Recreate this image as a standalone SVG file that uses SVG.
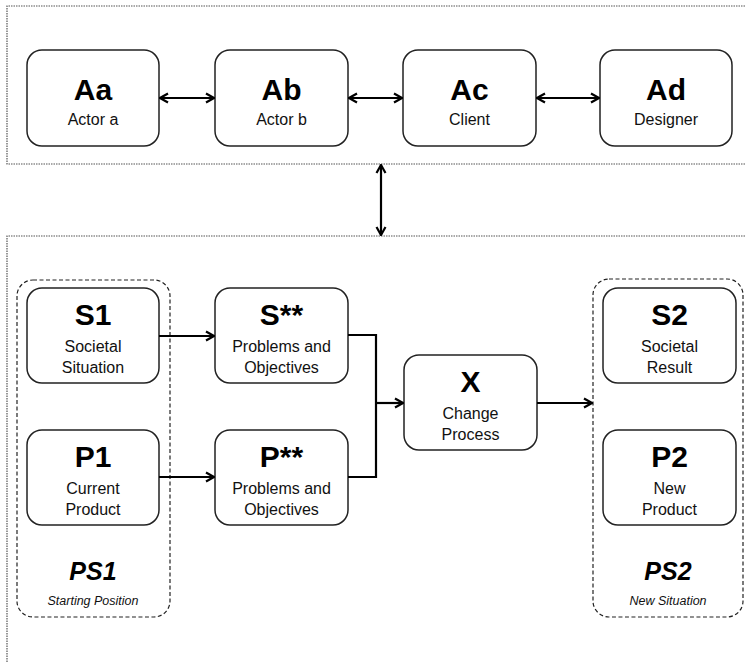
<svg xmlns="http://www.w3.org/2000/svg" width="745" height="662" viewBox="0 0 745 662">
  <style>
    .frame { fill: none; stroke: #555; stroke-width: 1.2; stroke-dasharray: 1.5 1; }
    .group { fill: none; stroke: #222; stroke-width: 1.2; stroke-dasharray: 4 2.5; }
    .box { fill: #fff; stroke: #222; stroke-width: 1.5; }
    .title { font-family: "Liberation Sans", Arial, sans-serif; font-weight: bold; font-size: 30px; text-anchor: middle; fill: #000; }
    .sub { font-family: "Liberation Sans", Arial, sans-serif; font-size: 16px; text-anchor: middle; fill: #111; }
    .gtitle { font-family: "Liberation Sans", Arial, sans-serif; font-weight: bold; font-style: italic; font-size: 25px; text-anchor: middle; fill: #000; }
    .gsub { font-family: "Liberation Sans", Arial, sans-serif; font-style: italic; font-size: 12.5px; text-anchor: middle; fill: #111; }
    .conn { fill: none; stroke: #000; stroke-width: 2.2; }
  </style>
  <defs>
    <marker id="head" viewBox="0 0 12 12" refX="11" refY="6" markerWidth="12" markerHeight="12" markerUnits="userSpaceOnUse" orient="auto-start-reverse">
      <path d="M3,1.5 L11,6 L3,10.5" fill="none" stroke="#000" stroke-width="2.2" stroke-linejoin="miter"/>
    </marker>
  </defs>

  <rect width="745" height="662" fill="#fff"/>

  <!-- outer frames -->
  <path class="frame" d="M760,6 H7 V164 H760"/>
  <path class="frame" d="M760,236 H7 V670"/>

  <!-- dashed groups -->
  <g id="PS1">
    <rect class="group" x="17" y="280" width="153" height="337" rx="16"/>
    <text class="gtitle" x="93" y="580">PS1</text>
    <text class="gsub" x="93" y="605">Starting Position</text>
  </g>
  <g id="PS2">
    <rect class="group" x="593" y="279" width="150" height="338" rx="16"/>
    <text class="gtitle" x="668" y="580">PS2</text>
    <text class="gsub" x="668" y="605">New Situation</text>
  </g>

  <!-- actors -->
  <g id="Aa">
    <rect class="box" x="27" y="50" width="132" height="96" rx="15"/>
    <text class="title" x="93" y="100">Aa</text>
    <text class="sub" x="93" y="125">Actor a</text>
  </g>
  <g id="Ab">
    <rect class="box" x="215" y="50" width="133" height="96" rx="15"/>
    <text class="title" x="281.5" y="100">Ab</text>
    <text class="sub" x="281.5" y="125">Actor b</text>
  </g>
  <g id="Ac">
    <rect class="box" x="403" y="50" width="133" height="96" rx="15"/>
    <text class="title" x="469.5" y="100">Ac</text>
    <text class="sub" x="469.5" y="125">Client</text>
  </g>
  <g id="Ad">
    <rect class="box" x="600" y="50" width="132" height="96" rx="15"/>
    <text class="title" x="666" y="100">Ad</text>
    <text class="sub" x="666" y="125">Designer</text>
  </g>

  <!-- process nodes -->
  <g id="S1">
    <rect class="box" x="27" y="288" width="132" height="95" rx="15"/>
    <text class="title" x="93" y="325">S1</text>
    <text class="sub" x="93" y="352">Societal</text>
    <text class="sub" x="93" y="373">Situation</text>
  </g>
  <g id="P1">
    <rect class="box" x="27" y="430" width="132" height="95" rx="15"/>
    <text class="title" x="93" y="467">P1</text>
    <text class="sub" x="93" y="494">Current</text>
    <text class="sub" x="93" y="515">Product</text>
  </g>
  <g id="Sxx">
    <rect class="box" x="215" y="288" width="133" height="95" rx="15"/>
    <text class="title" x="281.5" y="325">S**</text>
    <text class="sub" x="281.5" y="352">Problems and</text>
    <text class="sub" x="281.5" y="373">Objectives</text>
  </g>
  <g id="Pxx">
    <rect class="box" x="215" y="430" width="133" height="95" rx="15"/>
    <text class="title" x="281.5" y="467">P**</text>
    <text class="sub" x="281.5" y="494">Problems and</text>
    <text class="sub" x="281.5" y="515">Objectives</text>
  </g>
  <g id="X">
    <rect class="box" x="404" y="355" width="133" height="95" rx="15"/>
    <text class="title" x="470.5" y="392">X</text>
    <text class="sub" x="470.5" y="419">Change</text>
    <text class="sub" x="470.5" y="440">Process</text>
  </g>
  <g id="S2">
    <rect class="box" x="603" y="288" width="133" height="95" rx="15"/>
    <text class="title" x="669.5" y="325">S2</text>
    <text class="sub" x="669.5" y="352">Societal</text>
    <text class="sub" x="669.5" y="373">Result</text>
  </g>
  <g id="P2">
    <rect class="box" x="603" y="430" width="133" height="95" rx="15"/>
    <text class="title" x="669.5" y="467">P2</text>
    <text class="sub" x="669.5" y="494">New</text>
    <text class="sub" x="669.5" y="515">Product</text>
  </g>

  <!-- connectors -->
  <g id="connectors">
    <line class="conn" x1="160" y1="98" x2="214" y2="98" marker-start="url(#head)" marker-end="url(#head)"/>
    <line class="conn" x1="349" y1="98" x2="402" y2="98" marker-start="url(#head)" marker-end="url(#head)"/>
    <line class="conn" x1="537" y1="98" x2="599" y2="98" marker-start="url(#head)" marker-end="url(#head)"/>
    <line class="conn" x1="381" y1="165" x2="381" y2="235" marker-start="url(#head)" marker-end="url(#head)"/>
    <line class="conn" x1="159" y1="336" x2="214" y2="336" marker-end="url(#head)"/>
    <line class="conn" x1="159" y1="477" x2="214" y2="477" marker-end="url(#head)"/>
    <path class="conn" d="M348,335 H376 V477 H348"/>
    <line class="conn" x1="376" y1="403" x2="403" y2="403" marker-end="url(#head)"/>
    <line class="conn" x1="537" y1="403" x2="592" y2="403" marker-end="url(#head)"/>
  </g>
</svg>
